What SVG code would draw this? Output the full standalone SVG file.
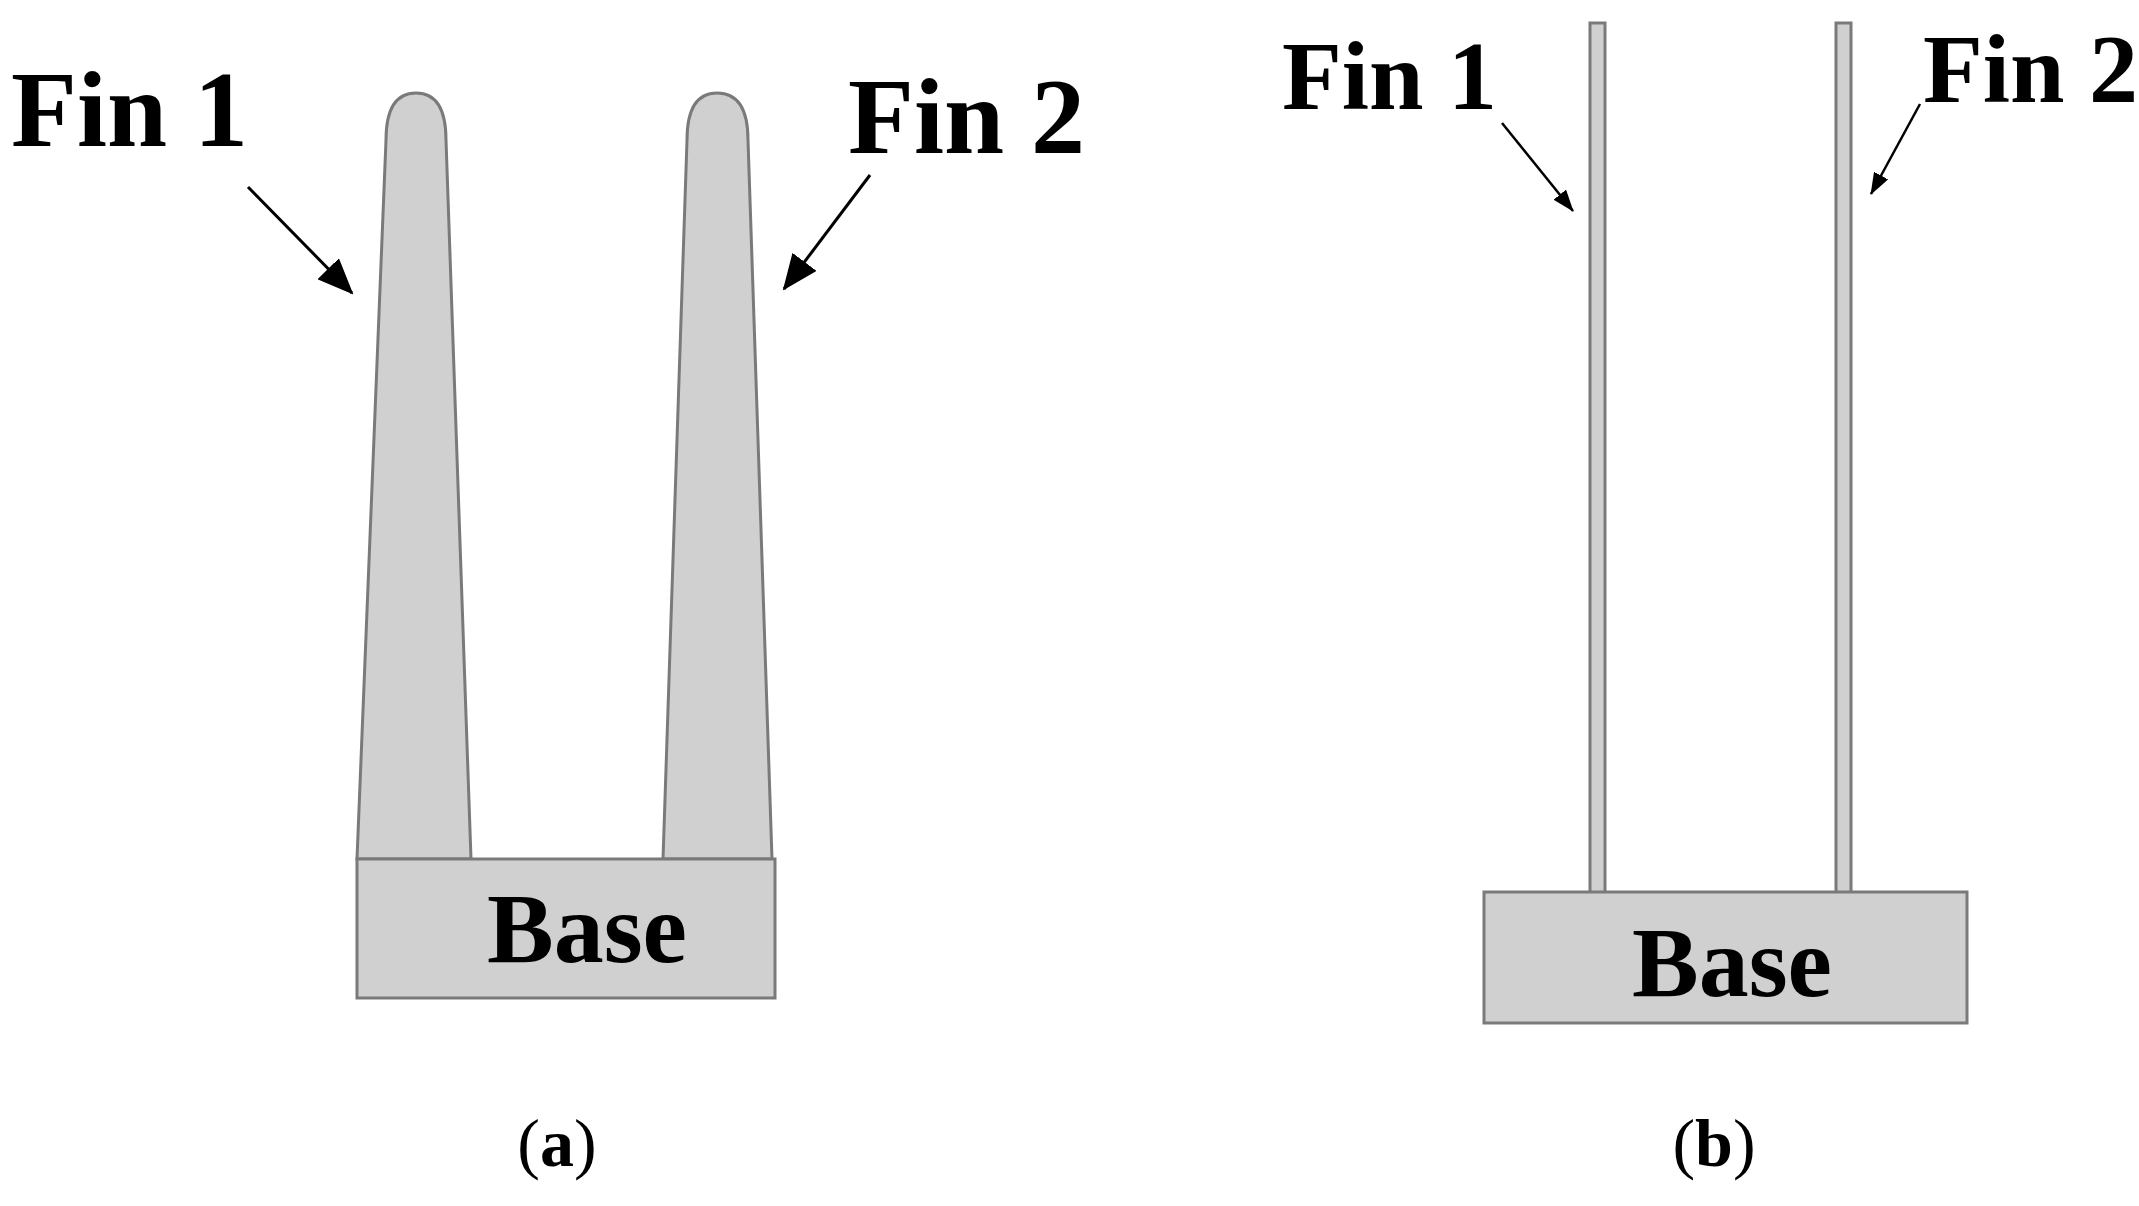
<svg xmlns="http://www.w3.org/2000/svg" width="2139" height="1206" viewBox="0 0 2139 1206">
<style>
.sh{fill:#d0d0d0;stroke:#7a7a7a;stroke-width:3}
.lb{font-family:"Liberation Serif",serif;font-weight:bold;fill:#000}
.cap{font-family:"Liberation Serif",serif;font-weight:normal;fill:#000;font-size:68px}
.ar{stroke:#000;stroke-width:3;fill:none;marker-end:url(#h)}
.ar2{stroke:#000;stroke-width:2.5;fill:none;marker-end:url(#h2)}
</style>
<defs>
<marker id="h" markerWidth="36" markerHeight="30" refX="34" refY="15" orient="auto" markerUnits="userSpaceOnUse" viewBox="0 0 36 30"><path d="M0,0 L36,15 L0,30 Z" fill="#000"/></marker>
<marker id="h2" markerWidth="22" markerHeight="16" refX="21" refY="8" orient="auto" markerUnits="userSpaceOnUse" viewBox="0 0 22 16"><path d="M0,0 L22,8 L0,16 Z" fill="#000"/></marker>
</defs>
<rect width="2139" height="1206" fill="#fff"/>
<g id="a-fin1"><path class="sh" d="M357,859 L386,140 Q386,93 416,93 Q446,93 446,140 L471,859 Z"/></g>
<g id="a-fin2"><path class="sh" d="M663,859 L687,140 Q687,93 717,93 Q748,93 748,140 L772,859 Z"/></g>
<g id="a-base"><rect class="sh" x="357" y="859" width="418" height="139"/><text class="lb" x="587" y="962" font-size="100" text-anchor="middle">Base</text></g>
<g id="a-labels"><text class="lb" x="11" y="146" font-size="108">Fin 1</text><text class="lb" x="848" y="153" font-size="108">Fin 2</text><text class="cap" x="557" y="1166" text-anchor="middle">(<tspan font-weight="bold">a</tspan>)</text></g>
<g id="b-fin1"><rect class="sh" x="1590" y="23" width="15" height="870"/></g>
<g id="b-fin2"><rect class="sh" x="1836" y="23" width="15" height="870"/></g>
<g id="b-base"><rect class="sh" x="1484" y="892" width="483" height="131"/><text class="lb" x="1732" y="996" font-size="100" text-anchor="middle">Base</text></g>
<g id="b-labels"><text class="lb" x="1282" y="109" font-size="98">Fin 1</text><text class="lb" x="1923" y="102" font-size="98">Fin 2</text><text class="cap" x="1714" y="1166" text-anchor="middle">(<tspan font-weight="bold">b</tspan>)</text></g>
<g id="connectors">
<line class="ar" x1="248" y1="187" x2="352" y2="293"/>
<line class="ar" x1="870" y1="175" x2="784" y2="289"/>
<line class="ar2" x1="1502" y1="123" x2="1573" y2="211"/>
<line class="ar2" x1="1920" y1="104" x2="1871" y2="194"/>
</g>
</svg>
